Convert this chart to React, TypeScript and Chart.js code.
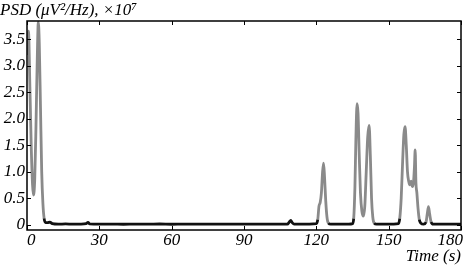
import React, { useEffect, useRef } from "react";
import { Chart, registerables } from "chart.js";
Chart.register(...registerables);

const TITLE = "PSD (μV²/Hz), ×10⁷";
const X_TITLE = "Time (s)";
const X_TICKS = [0, 30, 60, 90, 120, 150, 180];
const Y_TICKS = [0, 0.5, 1, 1.5, 2, 2.5, 3, 3.5];

const TIME = [
  0, 0.6, 1.2, 1.8, 2.3, 2.7, 3.2, 3.7, 4.2, 4.7, 5.1, 5.6, 6.1, 6.6, 7.1, 7.7, 8.5, 9.5, 10.5,
  13, 16, 19, 22, 24.5, 25.3, 26, 30, 35, 40, 45, 50, 55, 60, 65, 70, 75, 80, 85, 90, 95, 100, 105,
  108, 108.8, 109.4, 110, 110.8, 113, 117,
  120, 120.6, 121.1, 121.6, 122.1, 122.6, 123, 123.4, 123.9, 124.4, 125, 126, 128, 131, 133.5,
  135, 135.5, 136, 136.4, 136.9, 137.3, 137.8, 138.3, 138.9, 139.5, 140.1, 140.7, 141.3, 141.9,
  142.4, 142.9, 143.4, 144, 145, 147, 149, 152,
  154, 154.6, 155.2, 155.8, 156.3, 156.8, 157.3, 157.8, 158.3, 158.8, 159.3, 159.8, 160.3, 160.7,
  161, 161.3, 161.7, 162.2, 162.7, 163.3, 164.5, 165.5, 166, 166.5, 167, 167.6, 168.5,
  170, 173, 176, 180,
];
const PSD = [
  3.2, 3.65, 2.6, 1.4, 0.75, 0.56, 0.85, 1.8, 3.0, 3.82, 3.4, 2.2, 1.0, 0.4, 0.12, 0.04, 0.04, 0.05, 0.02,
  0.01, 0.015, 0.01, 0.012, 0.02, 0.045, 0.015, 0.01, 0.012, 0.008, 0.012, 0.01, 0.013, 0.008, 0.012, 0.01, 0.012, 0.009, 0.011, 0.01, 0.012, 0.009, 0.011,
  0.01, 0.05, 0.08, 0.04, 0.01, 0.01, 0.012,
  0.02, 0.1, 0.35, 0.42, 0.6, 1.0, 1.16, 0.9, 0.45, 0.15, 0.03, 0.01, 0.01, 0.012, 0.01,
  0.02, 0.12, 0.7, 1.6, 2.28, 2.1, 1.3, 0.6, 0.25, 0.16, 0.35, 1.0, 1.65, 1.87,
  1.3, 0.5, 0.15, 0.03, 0.01, 0.012, 0.01, 0.012,
  0.02, 0.12, 0.5, 1.2, 1.7, 1.85, 1.5, 1.0, 0.82, 0.75, 0.82, 0.72, 0.8, 1.1,
  1.41, 0.8, 0.6, 0.3, 0.1, 0.03, 0.01, 0.05, 0.2, 0.34, 0.2, 0.05, 0.01,
  0.01, 0.012, 0.01, 0.012,
];

const FONT = '"Liberation Serif", "Times New Roman", serif';

const framePlugin = {
  id: "frame",
  afterDatasetsDraw(chart: any) {
    const { ctx, chartArea, scales } = chart;
    const { left, right, top, bottom } = chartArea;
    const x = scales.x;
    const y = scales.y;
    ctx.save();
    ctx.strokeStyle = "#000";
    ctx.lineWidth = 1.5;
    ctx.strokeRect(left, top, right - left, bottom - top);
    ctx.lineWidth = 1;
    const L = 4;
    ctx.beginPath();
    for (const v of X_TICKS) {
      const px = Math.round(x.getPixelForValue(v)) + 0.5;
      ctx.moveTo(px, bottom);
      ctx.lineTo(px, bottom - L);
      ctx.moveTo(px, top);
      ctx.lineTo(px, top + L);
    }
    for (const v of Y_TICKS) {
      const py = Math.round(y.getPixelForValue(v)) + 0.5;
      ctx.moveTo(left, py);
      ctx.lineTo(left + L, py);
      ctx.moveTo(right, py);
      ctx.lineTo(right - L, py);
    }
    ctx.stroke();
    ctx.font = "italic 17px " + FONT;
    ctx.fillStyle = "#000";
    ctx.textBaseline = "middle";
    X_TICKS.forEach((v, i) => {
      const last = i === X_TICKS.length - 1;
      const px = x.getPixelForValue(v);
      ctx.textAlign = i === 0 ? "left" : last ? "right" : "center";
      ctx.fillText(String(v), last ? chart.width : px, bottom + 11);
    });
    ctx.restore();
  },
};

export default function App() {
  const ref = useRef<HTMLCanvasElement>(null);
  useEffect(() => {
    document.body.style.margin = "0";
    const data = TIME.map((t, i) => ({ x: t, y: PSD[i] }));
    const chart = new Chart(ref.current!, {
      type: "line",
      data: {
        datasets: [
          {
            data,
            borderWidth: 2.8,
            borderColor: "#8a8a8a",
            pointRadius: 0,
            cubicInterpolationMode: "monotone",
            segment: {
              borderColor: (c: any) =>
                c.p0.parsed.y > 0.13 || c.p1.parsed.y > 0.13 ? "#8a8a8a" : "#111",
            },
          },
        ],
      },
      options: {
        animation: false,
        responsive: false,
        devicePixelRatio: 1,
        layout: { padding: { left: 0, right: 2, top: 0, bottom: 0 } },
        plugins: {
          legend: { display: false },
          tooltip: { enabled: false },
          title: {
            display: true,
            text: TITLE,
            align: "start",
            color: "#000",
            font: { family: FONT, size: 17, style: "italic", weight: "normal", lineHeight: 1.2 },
            padding: { top: 0, bottom: 0.6 },
          },
        },
        scales: {
          x: {
            type: "linear",
            min: 0,
            max: 180,
            grid: { display: false, drawTicks: false },
            border: { display: false },
            ticks: { display: false },
            afterFit: (s: any) => {
              s.height = 37;
            },
            title: {
              display: true,
              text: X_TITLE,
              align: "end",
              color: "#000",
              font: { family: FONT, size: 17, style: "italic", lineHeight: 1 },
              padding: { top: 0, bottom: 2 },
            },
          },
          y: {
            type: "linear",
            min: -0.1,
            max: 3.84,
            grid: { display: false, drawTicks: false },
            border: { display: false },
            afterBuildTicks: (s: any) => {
              s.ticks = Y_TICKS.map((v) => ({ value: v }));
            },
            afterFit: (s: any) => {
              s.width = 27;
            },
            ticks: {
              padding: 2,
              color: "#000",
              font: { family: FONT, size: 17, style: "italic" },
              callback: (v: any) => (v === 0 ? "0" : Number(v).toFixed(1)),
            },
          },
        },
      },
      plugins: [framePlugin],
    } as any);
    return () => chart.destroy();
  }, []);
  return <canvas ref={ref} width={463} height={267} style={{ display: "block" }} />;
}
